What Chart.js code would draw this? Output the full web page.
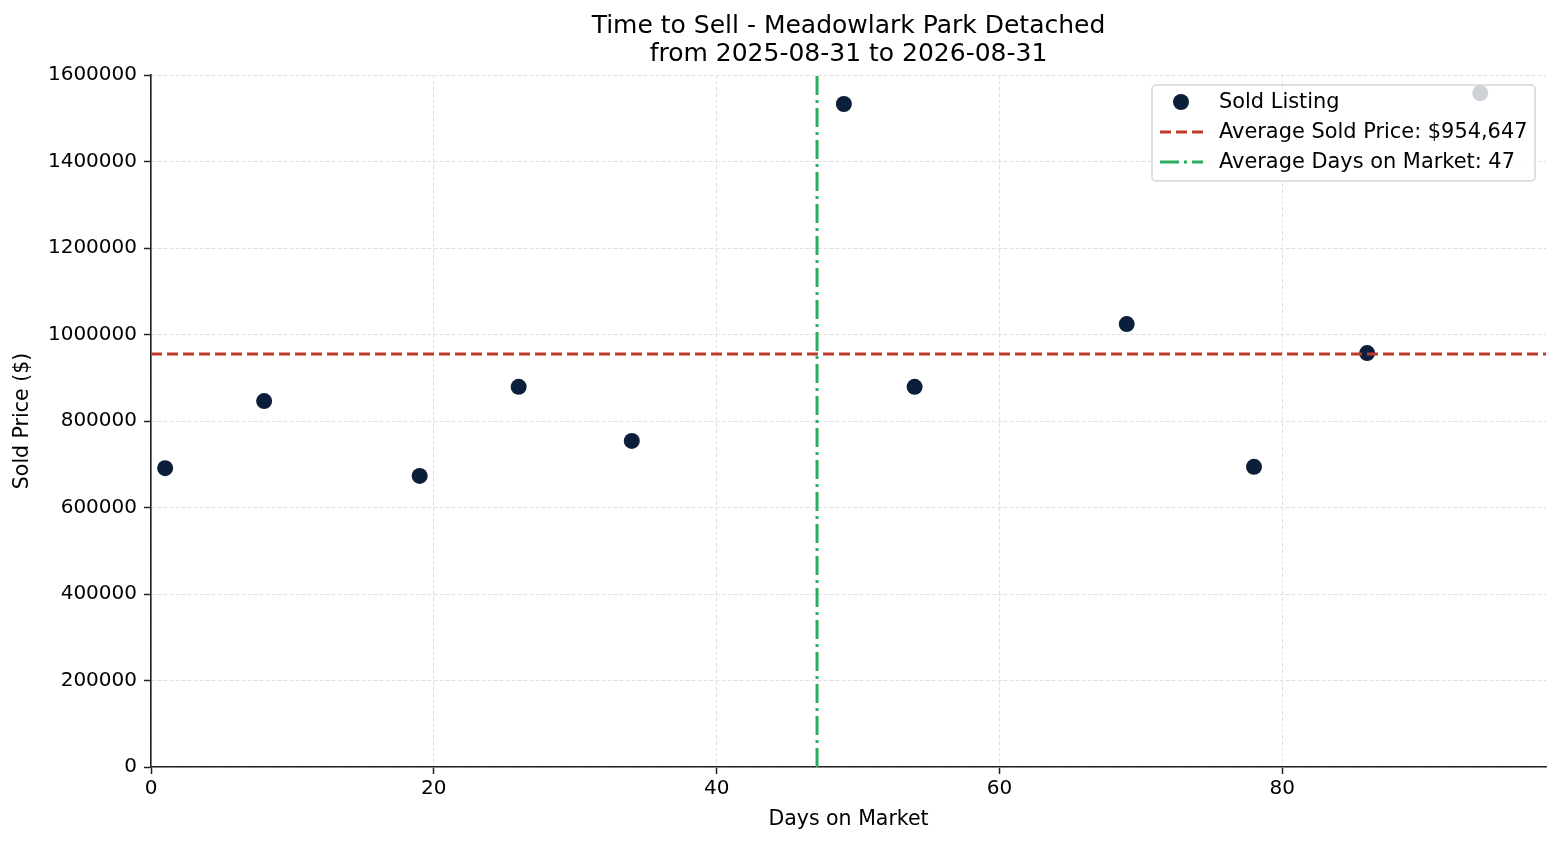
<!DOCTYPE html>
<html>
<head>
<meta charset="utf-8">
<title>Time to Sell</title>
<script src="https://cdn.jsdelivr.net/npm/chart.js@4.4.1/dist/chart.umd.min.js"></script>
<style>
  html, body { margin: 0; padding: 0; background: #fff; }
  #wrap { width: 1560px; height: 845px; }
</style>
</head>
<body>
<div id="wrap"><canvas id="myChart" width="1560" height="845"></canvas></div>
<script>
// sold listings
const daysOnMarket = [1, 8, 19, 26, 34, 49, 54, 69, 78, 86, 94];
const soldPrices = [691000, 846000, 673000, 879000, 754000, 1533000, 879000, 1024000, 694000, 957000, 1558000];
const avgPrice = 954647;
const avgDays = 47.1;
const xMax = 98.65;
const yMax = 1600000;
const yTicks = [0, 200000, 400000, 600000, 800000, 1000000, 1200000, 1400000, 1600000];
const xTicks = [0, 20, 40, 60, 80];
const titleLines = ['Time to Sell - Meadowlark Park Detached', 'from 2025-08-31 to 2026-08-31'];

const FONT = "'DejaVu Sans', sans-serif";
const navy = '#0b1f3a';
const red = '#c0392b';
const green = '#27ae60';

const ctx = document.getElementById('myChart').getContext('2d');

const points = daysOnMarket.map((d, i) => ({x: d, y: soldPrices[i]}));

// title + legend drawn by hand, matplotlib style
const extras = {
  id: 'extras',
  afterDraw(chart) {
    const c = chart.ctx;
    const area = chart.chartArea;
    const cx = (area.left + area.right) / 2;
    c.save();
    c.fillStyle = '#000';
    c.textAlign = 'center';
    c.textBaseline = 'middle';
    c.font = '25px ' + FONT;
    c.fillText(titleLines[0], cx, 26);
    c.fillText(titleLines[1], cx, 54);

    // legend box
    const bx = 1152, by = 85, bw = 383, bh = 96, r = 4;
    c.beginPath();
    c.moveTo(bx + r, by);
    c.arcTo(bx + bw, by, bx + bw, by + bh, r);
    c.arcTo(bx + bw, by + bh, bx, by + bh, r);
    c.arcTo(bx, by + bh, bx, by, r);
    c.arcTo(bx, by, bx + bw, by, r);
    c.closePath();
    c.fillStyle = 'rgba(255,255,255,0.8)';
    c.fill();
    c.strokeStyle = 'rgba(204,204,204,0.8)';
    c.lineWidth = 1.5;
    c.stroke();

    const rows = [102, 132, 162];
    c.fillStyle = navy;
    c.beginPath();
    c.arc(1181, rows[0], 8, 0, Math.PI * 2);
    c.fill();

    c.lineWidth = 3;
    c.strokeStyle = red;
    c.setLineDash([11, 5]);
    c.beginPath();
    c.moveTo(1160, rows[1]);
    c.lineTo(1203, rows[1]);
    c.stroke();

    c.strokeStyle = green;
    c.setLineDash([19, 5, 3, 5]);
    c.beginPath();
    c.moveTo(1160, rows[2]);
    c.lineTo(1203, rows[2]);
    c.stroke();
    c.setLineDash([]);

    c.fillStyle = '#000';
    c.textAlign = 'left';
    c.font = '20.9px ' + FONT;
    c.fillText('Sold Listing', 1219, rows[0] + 1);
    c.fillText('Average Sold Price: $' + avgPrice.toLocaleString('en-US'), 1219, rows[1] + 1);
    c.fillText('Average Days on Market: ' + Math.round(avgDays), 1219, rows[2] + 1);
    c.restore();
  }
};

const gridOpts = {
  color: '#dedede',
  lineWidth: 0.9,
  tickColor: '#222',
  tickLength: 7,
  tickWidth: 1.5,
  tickBorderDash: []
};

new Chart(ctx, {
  type: 'scatter',
  data: {
    datasets: [
      {
        label: 'Average Sold Price',
        type: 'line',
        data: [{x: 0, y: avgPrice}, {x: xMax, y: avgPrice}],
        borderColor: red,
        borderWidth: 3,
        borderDash: [11, 5],
        pointRadius: 0,
        fill: false,
        order: 1
      },
      {
        label: 'Average Days on Market',
        type: 'line',
        data: [{x: avgDays, y: 0}, {x: avgDays, y: yMax}],
        borderColor: green,
        borderWidth: 3,
        borderDash: [19, 5, 3, 5],
        pointRadius: 0,
        fill: false,
        order: 2
      },
      {
        label: 'Sold Listing',
        data: points,
        backgroundColor: navy,
        borderWidth: 0,
        pointRadius: 8,
        pointHoverRadius: 8,
        order: 3
      }
    ]
  },
  options: {
    responsive: false,
    animation: false,
    layout: { padding: { top: 75, right: 14, left: 0, bottom: 0 } },
    plugins: {
      legend: { display: false },
      title: { display: false },
      tooltip: { enabled: false }
    },
    scales: {
      x: {
        type: 'linear',
        min: 0,
        max: xMax,
        afterFit(scale) { scale.height = 78; },
        afterBuildTicks(scale) { scale.ticks = xTicks.map(v => ({value: v})); },
        ticks: {
          color: '#000',
          font: { family: FONT, size: 20 },
          padding: 3,
          maxRotation: 0
        },
        grid: gridOpts,
        border: { display: true, color: '#222', width: 1.6, dash: [4, 2] },
        title: {
          display: true,
          text: 'Days on Market',
          color: '#000',
          font: { family: FONT, size: 20.5 },
          padding: { top: 0, bottom: 13 }
        }
      },
      y: {
        type: 'linear',
        min: 0,
        max: yMax,
        afterFit(scale) { scale.width = 151; },
        afterBuildTicks(scale) { scale.ticks = yTicks.map(v => ({value: v})); },
        ticks: {
          color: '#000',
          font: { family: FONT, size: 20 },
          padding: 7,
          callback: v => String(v)
        },
        grid: gridOpts,
        border: { display: true, color: '#222', width: 1.6, dash: [4, 2] },
        title: {
          display: true,
          text: 'Sold Price ($)',
          color: '#000',
          font: { family: FONT, size: 20.5 },
          padding: { top: 10, bottom: 0 }
        }
      }
    }
  },
  plugins: [extras]
});
</script>
</body>
</html>
